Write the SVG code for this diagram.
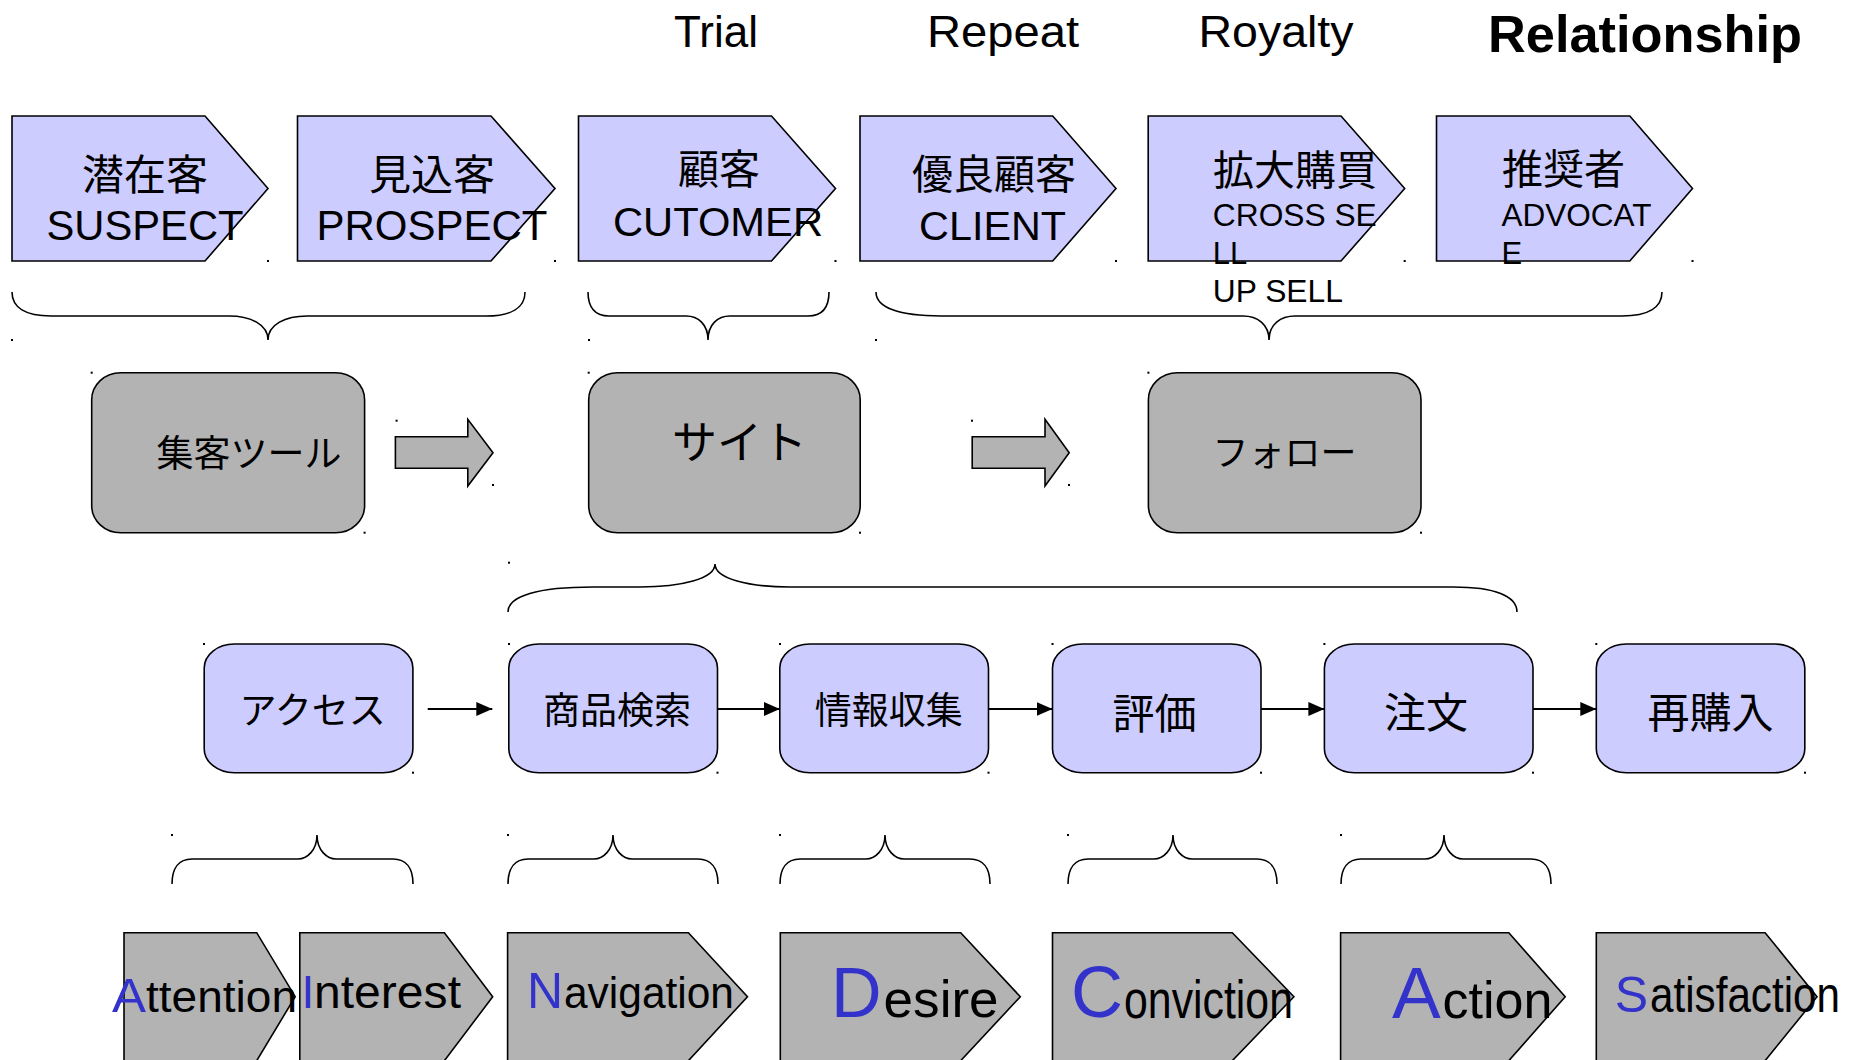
<svg xmlns="http://www.w3.org/2000/svg" width="1853" height="1060" viewBox="0 0 1853 1060">
  <style>
    .lav { fill: #ccccff; stroke: #000; stroke-width: 1.6; }
    .gray { fill: #b3b3b3; stroke: #000; stroke-width: 1.6; }
    .brace { fill: none; stroke: #000; stroke-width: 1.6; }
    .conn { fill: none; stroke: #000; stroke-width: 2; marker-end: url(#head); }
    .en { font-family: "Liberation Sans", Arial, sans-serif; fill: #000; }
    .jp { font-family: "Liberation Sans", "Noto Sans CJK JP", sans-serif; fill: #000; }
    .blue { fill: #3333cc; }
    .mid { text-anchor: middle; }
    .dot { fill: #000; }
  </style>
  <defs>
    <marker id="head" markerUnits="userSpaceOnUse" markerWidth="17" markerHeight="14" refX="16" refY="7" orient="auto">
      <path d="M0,0 L16,7 L0,14 z" fill="#000"/>
    </marker>
  </defs>
  <rect width="1853" height="1060" fill="#fff"/>

  <!-- stage headings -->
  <g id="headings">
    <text class="en mid" x="716" y="47" font-size="45" textLength="84" lengthAdjust="spacingAndGlyphs">Trial</text>
    <text class="en mid" x="1003" y="47" font-size="45" textLength="152" lengthAdjust="spacingAndGlyphs">Repeat</text>
    <text class="en mid" x="1276" y="47" font-size="45" textLength="155" lengthAdjust="spacingAndGlyphs">Royalty</text>
    <text class="en mid" x="1645" y="52" font-size="52" font-weight="bold" textLength="314" lengthAdjust="spacingAndGlyphs">Relationship</text>
  </g>

  <!-- customer stages -->
  <g id="suspect">
    <polygon class="lav" points="12,116 205,116 268,188.5 205,261 12,261"/>
    <text class="jp mid" x="145" y="189.5" font-size="42">潜在客</text>
    <text class="en mid" x="145" y="240" font-size="42" textLength="197" lengthAdjust="spacingAndGlyphs">SUSPECT</text>
  </g>
  <g id="prospect">
    <polygon class="lav" points="297.5,116 491,116 555,188.5 491,261 297.5,261"/>
    <text class="jp mid" x="432" y="189.5" font-size="42">見込客</text>
    <text class="en mid" x="432" y="240" font-size="42" textLength="231" lengthAdjust="spacingAndGlyphs">PROSPECT</text>
  </g>
  <g id="customer">
    <polygon class="lav" points="578.5,116 771.5,116 835.5,188.5 771.5,261 578.5,261"/>
    <text class="jp mid" x="719" y="184" font-size="41">顧客</text>
    <text class="en mid" x="718" y="235.7" font-size="41" textLength="210" lengthAdjust="spacingAndGlyphs">CUTOMER</text>
  </g>
  <g id="client">
    <polygon class="lav" points="860,116 1052.7,116 1116,188.5 1052.7,261 860,261"/>
    <text class="jp mid" x="994" y="189" font-size="41">優良顧客</text>
    <text class="en mid" x="992.6" y="240" font-size="41" textLength="147" lengthAdjust="spacingAndGlyphs">CLIENT</text>
  </g>
  <g id="upsell">
    <polygon class="lav" points="1148.2,116 1341,116 1404.7,188.5 1341,261 1148.2,261"/>
    <text class="jp" x="1213" y="184.5" font-size="41">拡大購買</text>
    <text class="en" x="1212.8" y="226" font-size="31" textLength="164" lengthAdjust="spacingAndGlyphs">CROSS SE</text>
    <text class="en" x="1212.8" y="264" font-size="31">LL</text>
    <text class="en" x="1212.8" y="301.7" font-size="31" textLength="130" lengthAdjust="spacingAndGlyphs">UP SELL</text>
  </g>
  <g id="advocate">
    <polygon class="lav" points="1436.5,116 1629.8,116 1692.5,188.5 1629.8,261 1436.5,261"/>
    <text class="jp" x="1502" y="184" font-size="41">推奨者</text>
    <text class="en" x="1501.5" y="226" font-size="31" textLength="150" lengthAdjust="spacingAndGlyphs">ADVOCAT</text>
    <text class="en" x="1501.5" y="264" font-size="31">E</text>
  </g>

  <!-- tools -->
  <g id="tool-attract">
    <rect class="gray" x="91.7" y="372.7" width="272.9" height="160" rx="29" ry="27"/>
    <text class="jp mid" x="249" y="467" font-size="37">集客ツール</text>
  </g>
  <g id="tool-site">
    <rect class="gray" x="588.7" y="372.7" width="271.5" height="160" rx="29" ry="27"/>
    <text class="jp mid" x="739.4" y="459" font-size="45">サイト</text>
  </g>
  <g id="tool-follow">
    <rect class="gray" x="1148.4" y="372.7" width="272.6" height="160" rx="29" ry="27"/>
    <text class="jp mid" x="1284.5" y="466" font-size="36">フォロー</text>
  </g>
  <g id="block-arrow-1">
    <polygon class="gray" points="395.4,436.7 467.8,436.7 467.8,419.3 493,452.7 467.8,486 467.8,468.3 395.4,468.3"/>
  </g>
  <g id="block-arrow-2">
    <polygon class="gray" points="972.2,436.7 1045,436.7 1045,419.3 1069.2,452.7 1045,486 1045,468.3 972.2,468.3"/>
  </g>

  <!-- site steps -->
  <g id="step-access">
    <rect class="lav" x="204.2" y="644" width="208.7" height="128.7" rx="30" ry="24"/>
    <text class="jp mid" x="312.6" y="723.5" font-size="37">アクセス</text>
  </g>
  <g id="step-search">
    <rect class="lav" x="508.8" y="644" width="208.7" height="128.7" rx="30" ry="24"/>
    <text class="jp mid" x="617" y="723.5" font-size="37">商品検索</text>
  </g>
  <g id="step-info">
    <rect class="lav" x="779.8" y="644" width="208.7" height="128.7" rx="30" ry="24"/>
    <text class="jp mid" x="888.8" y="723.5" font-size="37">情報収集</text>
  </g>
  <g id="step-review">
    <rect class="lav" x="1052.5" y="644" width="208.5" height="128.7" rx="30" ry="24"/>
    <text class="jp mid" x="1154.5" y="728.5" font-size="42">評価</text>
  </g>
  <g id="step-order">
    <rect class="lav" x="1324.4" y="644" width="208.6" height="128.7" rx="30" ry="24"/>
    <text class="jp mid" x="1426" y="728" font-size="42">注文</text>
  </g>
  <g id="step-repurchase">
    <rect class="lav" x="1596.3" y="644" width="208.5" height="128.7" rx="30" ry="24"/>
    <text class="jp mid" x="1710.4" y="728" font-size="42">再購入</text>
  </g>

  <!-- AIDMA-style phases -->
  <g id="phase-attention">
    <polygon class="gray" points="124,932.7 256.7,932.7 295.2,996.7 256.7,1060.7 124,1060.7"/>
    <text class="en blue" x="112" y="1011.7" font-size="48" textLength="34" lengthAdjust="spacingAndGlyphs">A</text>
    <text class="en" x="146" y="1011.7" font-size="45" textLength="151" lengthAdjust="spacingAndGlyphs">ttention</text>
  </g>
  <g id="phase-interest">
    <polygon class="gray" points="299.8,932.7 444.4,932.7 492.7,996.7 444.4,1060.7 299.8,1060.7"/>
    <text class="en blue" x="301.5" y="1008.3" font-size="46">I</text>
    <text class="en" x="314" y="1008.3" font-size="46" textLength="147" lengthAdjust="spacingAndGlyphs">nterest</text>
  </g>
  <g id="phase-navigation">
    <polygon class="gray" points="507.6,932.7 688.4,932.7 747.5,996.7 688.4,1060.7 507.6,1060.7"/>
    <text class="en blue" x="527" y="1008.3" font-size="50">N</text>
    <text class="en" x="564" y="1008.3" font-size="45" textLength="170" lengthAdjust="spacingAndGlyphs">avigation</text>
  </g>
  <g id="phase-desire">
    <polygon class="gray" points="780.3,932.7 960.7,932.7 1020.3,996.7 960.7,1060.7 780.3,1060.7"/>
    <text class="en blue" x="831" y="1017.3" font-size="70">D</text>
    <text class="en" x="883.6" y="1017.3" font-size="52" textLength="115" lengthAdjust="spacingAndGlyphs">esire</text>
  </g>
  <g id="phase-conviction">
    <polygon class="gray" points="1052.5,932.7 1232.3,932.7 1293.9,996.7 1232.3,1060.7 1052.5,1060.7"/>
    <text class="en blue" x="1071" y="1016.5" font-size="72">C</text>
    <text class="en" x="1124" y="1018.3" font-size="53" textLength="169" lengthAdjust="spacingAndGlyphs">onviction</text>
  </g>
  <g id="phase-action">
    <polygon class="gray" points="1340.6,932.7 1508.8,932.7 1565.2,996.7 1508.8,1060.7 1340.6,1060.7"/>
    <text class="en blue" x="1392" y="1018.3" font-size="73">A</text>
    <text class="en" x="1442.5" y="1018.3" font-size="52" textLength="110" lengthAdjust="spacingAndGlyphs">ction</text>
  </g>
  <g id="phase-satisfaction">
    <polygon class="gray" points="1596.3,932.7 1765.1,932.7 1817,996.7 1765.1,1060.7 1596.3,1060.7"/>
    <text class="en blue" x="1614.7" y="1011.7" font-size="50">S</text>
    <text class="en" x="1650" y="1011.7" font-size="50" textLength="190" lengthAdjust="spacingAndGlyphs">atisfaction</text>
  </g>

  <!-- connectors: braces and arrows -->
  <g id="connectors">
    <path class="brace" d="M12,292 C12,307.6 25.7,316 51,316 H229 C250.5,316 268,324.4 268,340 C268,324.4 285.5,316 307,316 H486 C511.3,316 525,307.6 525,292"/>
    <path class="brace" d="M588,292 C588,307.6 595.4,316 609,316 H686 C698.1,316 708,324.4 708,340 C708,324.4 717.9,316 730,316 H808 C821.7,316 829,307.6 829,292"/>
    <path class="brace" d="M876,292 C876,307.6 898.8,316 941,316 H1243 C1257.3,316 1269,324.4 1269,340 C1269,324.4 1280.7,316 1295,316 H1622 C1648,316 1662,307.6 1662,292"/>
    <path class="brace" d="M508,612 C508,595.8 537.8,587 593,587 H640 C681.3,587 715,578.8 715,564 C715,578.8 748.8,587 790,587 H1453 C1494.6,587 1517,595.8 1517,612"/>
    <path class="brace" d="M172,884 C172,868 179,859 192,859 H298 C306.6,859 317,850.6 317,835 C317,850.6 327.4,859 336,859 H393 C406,859 413,868 413,884"/>
    <path class="brace" d="M508,884 C508,868 515,859 528,859 H594 C602.6,859 613,850.6 613,835 C613,850.6 623.4,859 632,859 H698 C711,859 718,868 718,884"/>
    <path class="brace" d="M780,884 C780,868 787,859 800,859 H866 C874.6,859 885,850.6 885,835 C885,850.6 895.4,859 904,859 H970 C983,859 990,868 990,884"/>
    <path class="brace" d="M1068,884 C1068,868 1075,859 1088,859 H1154 C1162.6,859 1173,850.6 1173,835 C1173,850.6 1183.4,859 1192,859 H1257 C1270,859 1277,868 1277,884"/>
    <path class="brace" d="M1341,884 C1341,868 1348,859 1361,859 H1425 C1433.6,859 1444,850.6 1444,835 C1444,850.6 1454.4,859 1463,859 H1531 C1544,859 1551,868 1551,884"/>
    <line class="conn" x1="427.7" y1="709" x2="492.3" y2="709"/>
    <line class="conn" x1="717.5" y1="709" x2="779.8" y2="709"/>
    <line class="conn" x1="988.6" y1="709" x2="1052.5" y2="709"/>
    <line class="conn" x1="1261" y1="709" x2="1324.4" y2="709"/>
    <line class="conn" x1="1533" y1="709" x2="1596.3" y2="709"/>
  </g>

  <!-- shape handle marks -->
  <g id="handles" class="dot">
    <rect x="267" y="260" width="2" height="2"/><rect x="554" y="260" width="2" height="2"/>
    <rect x="834.5" y="260" width="2" height="2"/><rect x="1115" y="260" width="2" height="2"/>
    <rect x="1403.7" y="260" width="2" height="2"/><rect x="1691.5" y="260" width="2" height="2"/>
    <rect x="11" y="339" width="2" height="2"/><rect x="588" y="339" width="2" height="2"/>
    <rect x="875" y="339" width="2" height="2"/>
    <rect x="90.7" y="371.7" width="2" height="2"/><rect x="363.6" y="531.7" width="2" height="2"/>
    <rect x="395.6" y="419.7" width="2" height="2"/><rect x="492" y="484" width="2" height="2"/>
    <rect x="587.7" y="371.7" width="2" height="2"/><rect x="859" y="531.7" width="2" height="2"/>
    <rect x="971" y="419.7" width="2" height="2"/><rect x="1068" y="484" width="2" height="2"/>
    <rect x="1147.4" y="371.7" width="2" height="2"/><rect x="1420" y="531.7" width="2" height="2"/>
    <rect x="508" y="561.7" width="2" height="2"/>
    <rect x="203" y="643" width="2" height="2"/><rect x="412" y="771.7" width="2" height="2"/>
    <rect x="508" y="643" width="2" height="2"/><rect x="716.5" y="771.7" width="2" height="2"/>
    <rect x="779" y="643" width="2" height="2"/><rect x="987.5" y="771.7" width="2" height="2"/>
    <rect x="1051.5" y="643" width="2" height="2"/><rect x="1260" y="771.7" width="2" height="2"/>
    <rect x="1323.4" y="643" width="2" height="2"/><rect x="1532" y="771.7" width="2" height="2"/>
    <rect x="1595.3" y="643" width="2" height="2"/><rect x="1804" y="771.7" width="2" height="2"/>
    <rect x="171" y="834" width="2" height="2"/><rect x="507" y="834" width="2" height="2"/>
    <rect x="779" y="834" width="2" height="2"/><rect x="1067" y="834" width="2" height="2"/>
    <rect x="1340" y="834" width="2" height="2"/>
  </g>
</svg>
